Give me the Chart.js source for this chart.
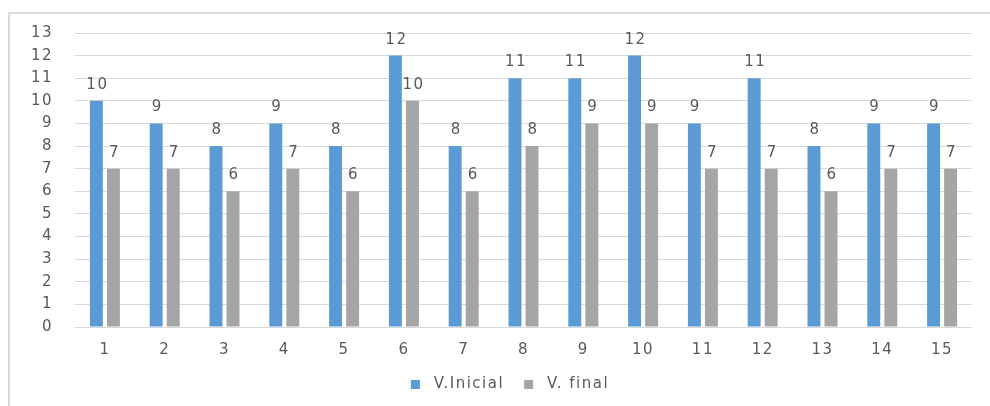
<!DOCTYPE html>
<html>
<head>
<meta charset="utf-8">
<script src="https://cdn.jsdelivr.net/npm/chart.js@4.4.1/dist/chart.umd.min.js"></script>
<style>
    body { margin: 0; background: #fff; }
    #wrap { position: relative; width: 990px; height: 406px; }
    #frame {
        position: absolute; left: 8px; top: 12px; width: 990px; height: 400px;
        border: 2px solid #d9d9d9; pointer-events: none;
    }
</style>
</head>
<body>
<div id="wrap">
    <canvas id="chart" width="990" height="406"></canvas>
    <div id="frame"></div>
</div>
<script>
// Data
const categories = ['1', '2', '3', '4', '5', '6', '7', '8', '9', '10', '11', '12', '13', '14', '15'];
const inicial = [10, 9, 8, 9, 8, 12, 8, 11, 11, 12, 9, 11, 8, 9, 9];
const final = [7, 7, 6, 7, 6, 10, 6, 8, 9, 9, 7, 7, 6, 7, 7];
const yMax = 13;

const textColor = '#595959';
const fontFamily = '"DejaVu Sans", sans-serif';

// the reference text looks stretched, widen it a bit
// (set before layout too so the legend gets measured with it)
const wideText = {
    id: 'wideText',
    beforeLayout(chart) { chart.ctx.letterSpacing = '1.5px'; },
    beforeDraw(chart) { chart.ctx.letterSpacing = '1.5px'; },
    // centre the legend under the plot area instead of the whole canvas
    afterLayout(chart) {
        if (chart.legend) chart.legend.left = chart.chartArea.left - 27;
    }
};

// Value labels above each bar
const barLabels = {
    id: 'barLabels',
    afterDatasetsDraw(chart) {
        const ctx = chart.ctx;
        ctx.save();
        ctx.font = '15px ' + fontFamily;
        ctx.fillStyle = textColor;
        ctx.textAlign = 'center';
        ctx.textBaseline = 'alphabetic';
        chart.data.datasets.forEach((ds, i) => {
            chart.getDatasetMeta(i).data.forEach((bar, j) => {
                ctx.fillText(ds.data[j], bar.x + 1, bar.y - 12);
            });
        });
        ctx.restore();
    }
};

new Chart(document.getElementById('chart'), {
    type: 'bar',
    data: {
        labels: categories,
        datasets: [
            { label: 'V.Inicial', data: inicial, backgroundColor: '#5b9bd5', borderWidth: 0 },
            { label: 'V. final', data: final, backgroundColor: '#a5a5a5', borderWidth: 0 }
        ]
    },
    options: {
        responsive: false,
        animation: false,
        layout: { padding: { top: 33, right: 18, bottom: 4, left: 0 } },
        datasets: { bar: { categoryPercentage: 0.57, barPercentage: 0.76 } },
        plugins: {
            tooltip: { enabled: false },
            legend: {
                position: 'bottom',
                labels: {
                    color: textColor,
                    font: { size: 15, family: fontFamily },
                    boxWidth: 9,
                    boxHeight: 9,
                    padding: 20,
                    // a bit more room between the swatch and the text
                    generateLabels(chart) {
                        const items = Chart.defaults.plugins.legend.labels.generateLabels(chart);
                        items.forEach(item => { item.text = ' ' + item.text; });
                        return items;
                    }
                }
            }
        },
        scales: {
            x: {
                grid: { display: false },
                border: { display: false },
                ticks: { color: textColor, font: { size: 15, family: fontFamily }, padding: 6 },
                afterFit(scale) { scale.height = 30; }
            },
            y: {
                min: 0,
                max: yMax,
                grid: { color: '#d9d9d9', lineWidth: 1, drawTicks: false },
                border: { display: false },
                ticks: { stepSize: 1, color: textColor, font: { size: 15, family: fontFamily }, padding: 22 },
                afterFit(scale) { scale.width = 75; }
            }
        }
    },
    plugins: [wideText, barLabels]
});
</script>
</body>
</html>
